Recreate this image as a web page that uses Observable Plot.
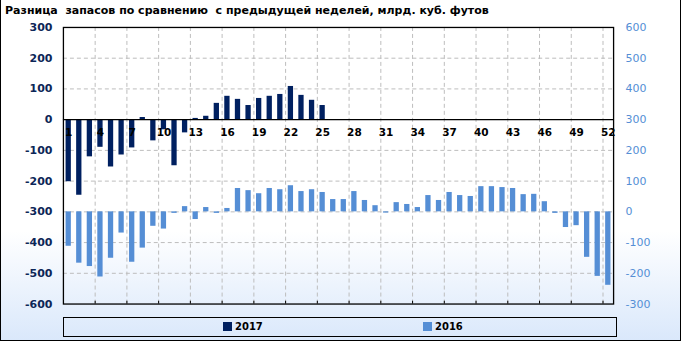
<!DOCTYPE html>
<html><head><meta charset="utf-8">
<script src="https://cdn.jsdelivr.net/npm/d3@7"></script>
<script src="https://cdn.jsdelivr.net/npm/@observablehq/plot@0.6"></script>
<style>
body{margin:0;}
#chart{position:relative;width:681px;height:341px;box-sizing:border-box;border:1px solid #000;border-top:none;background:linear-gradient(to bottom,#fff 0%,#fff 68%,#dae8fb 100%);overflow:hidden;font-family:"DejaVu Sans",sans-serif;}
#title{position:absolute;left:4px;top:4px;font-weight:bold;font-size:11px;white-space:pre;color:#000;}
#plot{position:absolute;left:-1px;top:0;}
#legend{position:absolute;left:62px;top:317px;width:554px;height:20px;box-sizing:border-box;border:1px solid #000;}
.li{position:absolute;top:3px;font-size:10px;font-weight:bold;color:#000;line-height:12px;}
.sw{display:inline-block;width:9px;height:9px;vertical-align:-1px;margin-right:3px;}
</style></head>
<body>
<div id="chart">
  <div id="title">Разница  запасов по сравнению  с предыдущей неделей, млрд. куб. футов</div>
  <div id="plot"></div>
  <div id="legend">
    <div class="li" style="left:159px"><span class="sw" style="background:#002060"></span>2017</div>
    <div class="li" style="left:359px"><span class="sw" style="background:#558ed5"></span>2016</div>
  </div>
</div>
<script>
const weeks = [1,2,3,4,5,6,7,8,9,10,11,12,13,14,15,16,17,18,19,20,21,22,23,24,25,26,27,28,29,30,31,32,33,34,35,36,37,38,39,40,41,42,43,44,45,46,47,48,49,50,51,52];
const v2017 = [-202,-246,-121,-90,-154,-115,-92,7,-69,-33,-150,-43,4,11,53,76,66,46,69,76,82,108,79,63,46];
const v2016 = [-112,-167,-178,-212,-151,-69,-164,-118,-47,-56,-5,17,-25,14,-5,11,76,69,59,76,72,85,66,72,63,40,40,66,37,20,-4,30,24,14,53,37,63,53,50,82,82,79,76,56,57,33,-5,-51,-45,-148,-210,-239];
const xTickLabels = [1,4,7,10,13,16,19,22,25,28,31,34,37,40,43,46,49,52];
const leftTicks = [300,200,100,0,-100,-200,-300,-400,-500,-600];
const rightOffset = 300; // right axis: value r sits at left value r - 300
const xGrid = xTickLabels.slice(0, -1).map(d => d + 2.5);

const c2017 = "#002060", c2016 = "#558ed5";
const d2017 = v2017.map((v, i) => ({week: weeks[i], v}));
const d2016 = v2016.map((v, i) => ({week: weeks[i], v}));
const half = 0.25;

const plot = Plot.plot({
  width: 681, height: 341,
  marginTop: 27, marginBottom: 37, marginLeft: 63, marginRight: 67,
  style: {background: "transparent", fontFamily: "DejaVu Sans, sans-serif", overflow: "visible"},
  x: {domain: [0.5, 52.5], axis: null},
  y: {domain: [-600, 300], axis: null},
  marks: [
    Plot.ruleY(leftTicks.filter(d => d !== 0 && d !== 300 && d !== -600), {stroke: "#bdbdbd", strokeDasharray: "4,3", strokeWidth: 1}),
    Plot.ruleX(xGrid, {stroke: "#bdbdbd", strokeDasharray: "4,3", strokeWidth: 1}),
    Plot.ruleX(xGrid, {y1: -600, y2: -591, stroke: "#000", strokeWidth: 1}),
    Plot.rectY(d2016, {x1: d => d.week - half, x2: d => d.week + half, y1: -rightOffset, y2: d => d.v - rightOffset, fill: c2016}),
    Plot.rectY(d2017, {x1: d => d.week - half, x2: d => d.week + half, y1: 0, y2: d => d.v, fill: c2017}),
    Plot.ruleY([0], {stroke: "#000", strokeWidth: 1.3}),
    Plot.frame({stroke: "#000", strokeWidth: 1.3}),
    Plot.text(xTickLabels, {x: d => d, y: 0, dy: 13, text: d => String(d), fontWeight: "bold", fontSize: 10.5, fill: "#000"}),
    Plot.axisY({anchor: "left", ticks: leftTicks, tickSize: 0, tickPadding: 11, fontSize: 11, fontWeight: "bold", color: "#0d2657", tickFormat: d => String(d), label: null}),
    Plot.axisY({anchor: "right", ticks: leftTicks, tickSize: 0, tickPadding: 12, fontSize: 11, color: "#558ed5", tickFormat: d => String(d + rightOffset), label: null})
  ]
});
document.getElementById("plot").appendChild(plot);
</script>
</body></html>
